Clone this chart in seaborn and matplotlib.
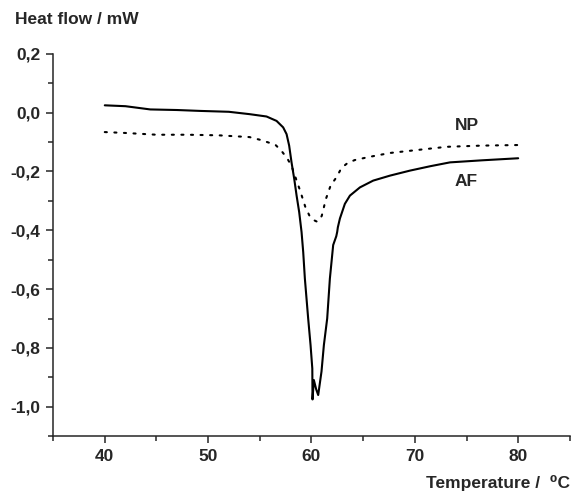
import matplotlib
matplotlib.use("Agg")
import matplotlib.pyplot as plt
from matplotlib.ticker import MultipleLocator, FuncFormatter
import seaborn as sns
import pandas as pd

# Values
af_temp = [40, 42, 44.4, 47, 49.2, 52, 54.0, 55.65, 56.62, 57.26, 57.59, 57.84,
           58.07, 58.33, 58.56, 58.81, 59.04, 59.2, 59.36, 59.68, 59.91, 60.08,
           60.1, 60.23, 60.45, 60.65, 60.97, 61.2, 61.52, 61.78, 62.1, 62.4,
           62.49, 62.55, 62.75, 63.23, 63.72, 64.69, 65.97, 67.6, 69.53, 71.5,
           73.4, 76.5, 80]
af_flow = [0.025, 0.022, 0.011, 0.009, 0.006, 0.003, -0.005, -0.013, -0.028,
           -0.050, -0.073, -0.112, -0.169, -0.225, -0.282, -0.338, -0.406, -0.474,
           -0.564, -0.70, -0.79, -0.87, -0.975, -0.909, -0.94, -0.96, -0.88,
           -0.79, -0.70, -0.564, -0.45, -0.42, -0.405, -0.39, -0.36, -0.31,
           -0.282, -0.254, -0.231, -0.214, -0.197, -0.182, -0.169, -0.162, -0.155]
np_temp = [40, 42, 45, 48, 51, 54.0, 55.0, 55.8, 56.5, 57.1, 57.7, 58.1, 58.65,
           58.9, 59.4, 59.8, 60.2, 60.5, 60.8, 61.0, 61.4, 61.85, 62.45, 62.9,
           63.5, 64.2, 65.65, 67.6, 70.2, 73.1, 76.5, 80]
np_flow = [-0.066, -0.069, -0.075, -0.075, -0.077, -0.083, -0.092, -0.101, -0.109,
           -0.13, -0.158, -0.184, -0.24, -0.265, -0.32, -0.35, -0.365, -0.37,
           -0.365, -0.35, -0.293, -0.248, -0.218, -0.188, -0.171, -0.161, -0.15,
           -0.137, -0.127, -0.116, -0.112, -0.11]

df = pd.concat([
    pd.DataFrame({"T": af_temp, "flow": af_flow, "sample": "AF"}),
    pd.DataFrame({"T": np_temp, "flow": np_flow, "sample": "NP"}),
])

sns.set_style("ticks")
plt.rcParams["font.family"] = ["Liberation Sans", "DejaVu Sans"]
plt.rcParams["font.weight"] = "bold"

fig = plt.figure(figsize=(5.71, 4.94), dpi=100)
ax = fig.add_axes([0.093, 0.117, 0.905, 0.774])

sns.lineplot(data=df, x="T", y="flow", style="sample", color="black",
             dashes={"AF": "", "NP": (1, 3.6)}, linewidth=1.5, sort=False,
             estimator=None, legend=False, ax=ax)
for line in ax.lines:
    line.set_dash_capstyle("round")
    line.set_solid_joinstyle("round")

ax.set_xlim(35, 85)
ax.set_ylim(-1.1, 0.2)
ax.xaxis.set_major_locator(MultipleLocator(10))
ax.xaxis.set_minor_locator(MultipleLocator(5))
ax.yaxis.set_major_locator(MultipleLocator(0.2))
ax.yaxis.set_minor_locator(MultipleLocator(0.1))
ax.yaxis.set_major_formatter(FuncFormatter(lambda v, p: f"{v:.1f}".replace(".", ",").replace("-0,0", "0,0")))
ax.xaxis.set_major_formatter(FuncFormatter(lambda v, p: f"{v:.0f}"))

sns.despine(ax=ax)
for s in ("left", "bottom"):
    ax.spines[s].set_linewidth(1.1)
ax.tick_params(which="major", length=5, width=1.1, labelsize=12.5, direction="out", pad=4)
ax.tick_params(which="minor", length=3.5, width=1.1, direction="out")
ax.set_xlabel("")
ax.set_ylabel("")

fig.text(0.026, 0.96, "Heat flow / mW", fontsize=12.5, fontweight="bold", va="center")
fig.text(0.998, 0.022, "Temperature /  \u2070C", fontsize=12.5, fontweight="bold",
         ha="right", va="center")
ax.text(75, -0.045, "NP", fontsize=12.5, fontweight="bold", ha="center", va="center")
ax.text(75, -0.235, "AF", fontsize=12.5, fontweight="bold", ha="center", va="center")

fig.savefig("out.png", dpi=100)
